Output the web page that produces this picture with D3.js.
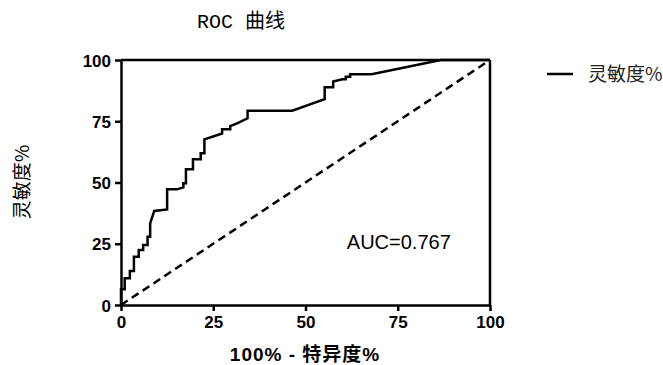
<!DOCTYPE html>
<meta charset="utf-8">
<style>
body { margin: 0; background: #fff; }
.axis text { font-family: "Liberation Sans", Arial, sans-serif; font-size: 17px; font-weight: bold; fill: #000; }
.axis path, .axis line { stroke: #000; stroke-width: 2.5px; }
</style>
<svg width="663" height="365"></svg>
<script src="https://d3js.org/d3.v7.min.js"></script>
<script>

// ROC curve points: 100% - specificity, sensitivity
var fpr = [0, 0, 1.0, 1.0, 2.4, 2.4, 3.5, 3.5, 4.8, 4.8, 6.0, 6.0, 7.2, 7.2, 7.9, 7.9, 9.0,
           12.5, 12.5, 15.2, 16.9, 16.9, 17.6, 17.6, 19.5, 19.5, 21.6, 21.6, 22.6, 22.6,
           27.4, 27.4, 29.6, 29.6, 31.6, 34.3, 34.3, 46.4, 55.2, 55.2, 57.5, 57.5,
           60.0, 60.9, 60.9, 62.1, 62.1, 67.9, 86.7, 100];
var tpr = [0, 6.4, 6.4, 10.9, 10.9, 13.9, 13.9, 19.7, 19.7, 22.4, 22.4, 24.5, 24.5, 27.9, 27.9, 33.3, 38.4,
           39.0, 47.2, 47.2, 48.0, 49.7, 49.7, 55.4, 55.4, 59.5, 59.5, 61.9, 61.9, 67.6,
           70.0, 71.7, 71.7, 73.0, 74.2, 76.2, 79.3, 79.3, 84.0, 88.9, 88.9, 91.2,
           92.1, 92.1, 93.2, 93.2, 94.2, 94.2, 100, 100];
var ticks = [0, 25, 50, 75, 100];
var auc = "AUC=0.767";

var svg = d3.select("svg");
var margin = {left: 121, right: 173, top: 60, bottom: 60};
var w = 663 - margin.left - margin.right,
    h = 365 - margin.top - margin.bottom;

var x = d3.scaleLinear().domain([0, 100]).range([0, w]);
var y = d3.scaleLinear().domain([0, 100]).range([h, 0]);

var g = svg.append("g").attr("transform", "translate(" + margin.left + "," + margin.top + ")");

// frame top / right
g.append("line").attr("x1", 0).attr("x2", w).attr("y1", 0).attr("y2", 0)
  .attr("stroke", "#000").attr("stroke-width", 2.5);
g.append("line").attr("x1", w).attr("x2", w).attr("y1", 0).attr("y2", h)
  .attr("stroke", "#000").attr("stroke-width", 2.5);

// reference diagonal
g.append("line")
  .attr("x1", x(0)).attr("y1", y(0)).attr("x2", x(100)).attr("y2", y(100))
  .attr("stroke", "#000").attr("stroke-width", 2.5).attr("stroke-dasharray", "8,5");

// ROC curve
var pts = fpr.map(function(d, i) { return [d, tpr[i]]; });
g.append("path")
  .datum(pts)
  .attr("fill", "none")
  .attr("stroke", "#000")
  .attr("stroke-width", 2.5)
  .attr("stroke-linejoin", "miter")
  .attr("d", d3.line().x(function(d) { return x(d[0]); }).y(function(d) { return y(d[1]); }));

g.append("g").attr("class", "axis")
  .attr("transform", "translate(0," + h + ")")
  .call(d3.axisBottom(x).tickValues(ticks).tickSize(6).tickPadding(5).tickSizeOuter(0));

g.append("g").attr("class", "axis")
  .call(d3.axisLeft(y).tickValues(ticks).tickSize(6).tickPadding(4).tickSizeOuter(0))
  .selectAll("text").attr("dy", "0.36em");

// AUC label
g.append("text")
  .attr("x", x(61.2)).attr("y", y(22.8))
  .attr("font-family", "Liberation Sans, Arial, sans-serif")
  .attr("font-size", 20)
  .text(auc);

// title
svg.append("text")
  .attr("x", 241).attr("y", 28)
  .attr("text-anchor", "middle")
  .attr("font-family", "Liberation Mono, Noto Sans CJK SC, monospace")
  .attr("font-size", 20)
  .text("ROC 曲线");

// axis titles
svg.append("text")
  .attr("x", 305).attr("y", 361)
  .attr("text-anchor", "middle")
  .attr("font-family", "Liberation Sans, Noto Sans CJK SC, sans-serif")
  .attr("font-weight", "bold")
  .attr("font-size", 19)
  .attr("letter-spacing", 1)
  .text("100% - 特异度%");

svg.append("text")
  .attr("transform", "translate(29,182) rotate(-90)")
  .attr("text-anchor", "middle")
  .attr("font-family", "Noto Sans CJK SC, sans-serif")
  .attr("font-size", 19)
  .text("灵敏度%");

// legend
svg.append("line")
  .attr("x1", 547).attr("x2", 573).attr("y1", 74).attr("y2", 74)
  .attr("stroke", "#000").attr("stroke-width", 2.5);
svg.append("text")
  .attr("x", 588).attr("y", 81)
  .attr("font-family", "Noto Sans CJK SC, sans-serif")
  .attr("font-size", 19)
  .attr("fill", "#222")
  .text("灵敏度%");

</script>
